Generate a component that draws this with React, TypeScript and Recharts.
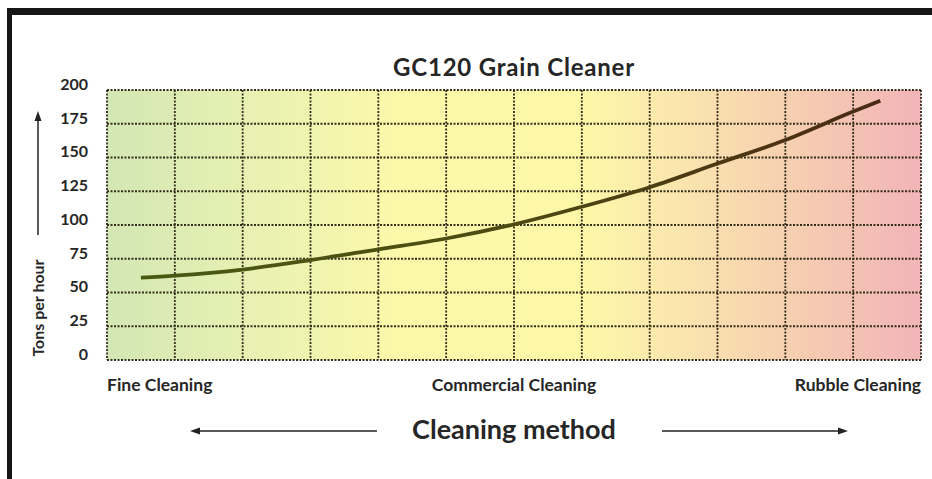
import React from 'react';
import { LineChart, Line, XAxis, YAxis, CartesianGrid } from 'recharts';

// cleaning method position (0 = fine, 6 = commercial, 12 = rubble)
const positions = [0.5, 1, 2, 3, 4, 5, 6, 7, 8, 9, 10, 11, 11.4];
const tonsPerHour = [61, 62.5, 67, 74, 82, 90, 100.5, 113.5, 128, 145.5, 163, 184, 192];

const yTicks = [0, 25, 50, 75, 100, 125, 150, 175, 200];
const xTicks = [0, 1, 2, 3, 4, 5, 6, 7, 8, 9, 10, 11, 12];
const methodPositions = [0, 6, 12];
const methodLabels = ['Fine Cleaning', 'Commercial Cleaning', 'Rubble Cleaning'];

const data = positions.map((x, i) => ({ x, tons: tonsPerHour[i] }));

const FONT = 'Lato, "Open Sans", sans-serif';
const TEXT = '#262626';

const YTick = (props: any) => {
  const { x, y, payload } = props;
  return (
    <text x={x} y={y - 6} dy="0.36em" textAnchor="end" fontFamily={FONT} fontWeight={700} fontSize={16} fill={TEXT}>
      {payload.value}
    </text>
  );
};

const XTick = (props: any) => {
  const { x, y, payload } = props;
  const idx = methodPositions.indexOf(payload.value);
  if (idx < 0) return null;
  const anchor = idx === 0 ? 'start' : idx === methodPositions.length - 1 ? 'end' : 'middle';
  return (
    <text x={x} y={y + 25} dy="0.36em" textAnchor={anchor} fontFamily={FONT} fontWeight={700} fontSize={17.5} fill={TEXT}>
      {methodLabels[idx]}
    </text>
  );
};

export default function App() {
  return (
    <div style={{ position: 'absolute', left: 0, top: 0, width: 932, height: 479, overflow: 'hidden', background: '#fff' }}>
      {/* frame */}
      <div style={{ position: 'absolute', left: 7, top: 8, width: 940, height: 490, borderTop: '7px solid #161616', borderLeft: '5px solid #161616' }} />

      <svg width={0} height={0} style={{ position: 'absolute' }}>
        <defs>
          <linearGradient id="bgGrad" x1="0" y1="0" x2="1" y2="0">
            <stop offset="0%" stopColor="#d3e7b4" />
            <stop offset="18%" stopColor="#e8f1b2" />
            <stop offset="35%" stopColor="#fbf8aa" />
            <stop offset="58%" stopColor="#fdf8a8" />
            <stop offset="70%" stopColor="#fbe6ae" />
            <stop offset="85%" stopColor="#f6cdb1" />
            <stop offset="100%" stopColor="#f2b4b8" />
          </linearGradient>
          <linearGradient id="lineGrad" x1="0" y1="0" x2="1" y2="0">
            <stop offset="0%" stopColor="#4a5a10" />
            <stop offset="50%" stopColor="#4d4a12" />
            <stop offset="100%" stopColor="#4a2a14" />
          </linearGradient>
        </defs>
      </svg>

      <div style={{ position: 'absolute', left: 0, top: 0 }}>
        <LineChart width={932} height={479} data={data} margin={{ top: 90, right: 11, bottom: 79, left: 47 }}>
          <CartesianGrid
            fill="url(#bgGrad)"
            fillOpacity={1}
            stroke="#332e1c"
            strokeWidth={1.8}
            strokeDasharray="2 1.5"
            horizontal
            vertical
          />
          <XAxis
            dataKey="x"
            type="number"
            domain={[0, 12]}
            ticks={xTicks}
            height={40}
            axisLine={false}
            tickLine={false}
            tickSize={0}
            tickMargin={0}
            tick={<XTick />}
            interval={0}
          />
          <YAxis
            type="number"
            domain={[0, 200]}
            ticks={yTicks}
            width={60}
            axisLine={false}
            tickLine={false}
            tickSize={0}
            tickMargin={19}
            tick={<YTick />}
            interval={0}
          />
          <Line
            type="monotone"
            dataKey="tons"
            stroke="url(#lineGrad)"
            strokeWidth={3.8}
            dot={false}
            activeDot={false}
            isAnimationActive={false}
          />
        </LineChart>
      </div>

      <svg width={932} height={479} style={{ position: 'absolute', left: 0, top: 0, pointerEvents: 'none' }}>
        <text x={514} y={67} dy="0.36em" textAnchor="middle" fontFamily={FONT} fontWeight={700} fontSize={24} letterSpacing={0.8} fill={TEXT}>
          GC120 Grain Cleaner
        </text>

        {/* y-axis label with arrow */}
        <text
          x={38}
          y={308}
          dy="0.36em"
          textAnchor="middle"
          transform="rotate(-90 38 308)"
          fontFamily={FONT}
          fontWeight={700}
          fontSize={16}
          fill={TEXT}
        >
          Tons per hour
        </text>
        <line x1={38} y1={235} x2={38} y2={120} stroke="#222" strokeWidth={1.5} />
        <polygon points="38,111 34.5,121 41.5,121" fill="#222" />

        {/* x-axis title with arrows */}
        <text x={514} y={429} dy="0.36em" textAnchor="middle" fontFamily={FONT} fontWeight={700} fontSize={27} fill={TEXT}>
          Cleaning method
        </text>
        <line x1={198} y1={431} x2={377} y2={431} stroke="#222" strokeWidth={1.5} />
        <polygon points="190,431 200,427.5 200,434.5" fill="#222" />
        <line x1={662} y1={431} x2={840} y2={431} stroke="#222" strokeWidth={1.5} />
        <polygon points="848,431 838,427.5 838,434.5" fill="#222" />
      </svg>
    </div>
  );
}
